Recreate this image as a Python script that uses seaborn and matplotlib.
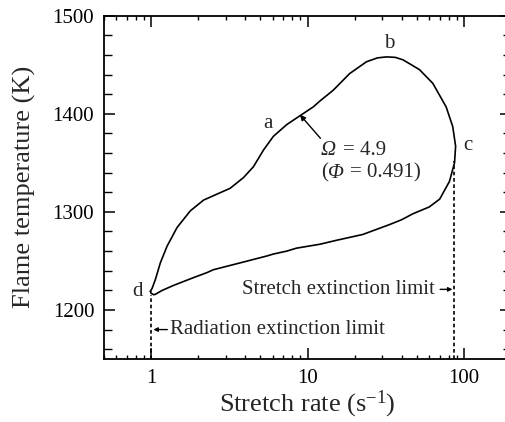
import numpy as np
import pandas as pd
import matplotlib
matplotlib.use("Agg")
import matplotlib.pyplot as plt
import seaborn as sns
from matplotlib.ticker import LogLocator, FixedLocator, NullFormatter, FixedFormatter

# ---- data (closed response curve, traced d -> a -> b -> c -> back to d) ----
stretch_rate = [0.99, 1.015, 1.065, 1.146, 1.265, 1.465, 1.78, 2.165, 2.63, 3.2, 3.9,
                4.51, 5.23, 6.05, 7.37, 8.95, 10.88, 12.0, 14.6, 18.6, 23.8, 28.0,
                32.0, 36.5, 40.8, 52.0, 63.3, 77.0, 84.8, 88.5, 87.1, 80.8, 70.0,
                60.0, 47.1, 40.0, 33.4, 22.6, 15.3, 12.0, 8.5, 7.37, 6.05, 5.49,
                3.71, 2.5, 2.27, 1.87, 1.39, 1.18, 1.065, 1.04, 1.0, 0.99]
flame_temp = [1219, 1222, 1231, 1248, 1265, 1284, 1301, 1312, 1318, 1324, 1335,
              1346, 1363, 1377, 1389, 1398, 1407, 1413, 1424, 1441, 1453, 1457,
              1458, 1457.5, 1455, 1445, 1431, 1407, 1387, 1367, 1350, 1331, 1313,
              1305, 1298, 1292, 1287, 1277, 1271, 1267, 1263, 1260, 1257, 1255,
              1248, 1241, 1238, 1233, 1225, 1220, 1216, 1215.5, 1217, 1219]

radiation_limit = 1.0
stretch_limit = 87.0
radiation_limit_temp = 1215
stretch_limit_temp = 1352

x_ticks = [1, 10, 100]
x_tick_labels = ["1", "10", "100"]
y_ticks = [1200, 1300, 1400, 1500]

point_labels = ["a", "b", "c", "d"]
point_x = [5.6, 33.2, 106, 0.814]
point_y = [1390, 1472, 1368, 1219]

df = pd.DataFrame({"rate": stretch_rate, "temp": flame_temp})

sns.set_theme(style="ticks")
plt.rcParams["font.family"] = ["Liberation Serif", "DejaVu Serif"]
plt.rcParams["mathtext.fontset"] = "custom"
plt.rcParams["mathtext.rm"] = "Liberation Serif"
plt.rcParams["mathtext.it"] = "Liberation Serif:italic"

fig = plt.figure(figsize=(5.05, 4.22), dpi=100)
ax = fig.add_axes([104 / 505, (422 - 359) / 422, 407 / 505, (359 - 15.7) / 422])

sns.lineplot(data=df, x="rate", y="temp", sort=False, estimator=None,
             color="black", linewidth=1.2, ax=ax)

ax.set_xscale("log")
ax.set_xlim(0.5, 200)
ax.set_ylim(1150, 1500)

# extinction limits (dashed verticals)
ax.plot([radiation_limit, radiation_limit], [1150, radiation_limit_temp],
        color="black", lw=1.2, ls=(0, (2.2, 1.6)))
ax.plot([stretch_limit, stretch_limit], [1150, stretch_limit_temp],
        color="black", lw=1.2, ls=(0, (2.2, 1.6)))

# ticks
ax.xaxis.set_major_locator(FixedLocator(x_ticks))
ax.xaxis.set_major_formatter(FixedFormatter(x_tick_labels))
ax.xaxis.set_minor_locator(LogLocator(base=10, subs=np.arange(2, 10)))
ax.xaxis.set_minor_formatter(NullFormatter())
ax.yaxis.set_major_locator(FixedLocator(y_ticks))
ax.yaxis.set_minor_locator(FixedLocator(np.arange(1160, 1500, 20)))

ax.tick_params(axis="both", which="both", direction="in", top=True, right=True,
               colors="black", labelsize=15)
ax.tick_params(axis="both", which="major", length=8, width=1.1)
ax.tick_params(axis="x", which="minor", length=3, width=1.0)
ax.tick_params(axis="y", which="minor", length=5.5, width=1.0)
ax.tick_params(axis="x", which="major", pad=7)
ax.tick_params(axis="y", which="major", pad=7)
for s in ax.spines.values():
    s.set_linewidth(1.3)
    s.set_color("black")

ax.set_xlabel("Stretch rate (s$^{\u22121}$)", fontsize=19, labelpad=1)
ax.set_ylabel("Flame temperature (K)", fontsize=19, labelpad=12)

# point labels
for lab, px, py in zip(point_labels, point_x, point_y):
    ax.text(px, py, lab, fontsize=15, ha="center", va="center")

# Omega annotation
ax.annotate("", xy=(8.95, 1399), xytext=(12.1, 1375),
            arrowprops=dict(arrowstyle="-|>", color="black", lw=1.0,
                            mutation_scale=8, shrinkA=0, shrinkB=0))
ax.text(12.16, 1358, "\u03a9", fontsize=15, fontstyle="italic",
        ha="left", va="baseline")
ax.annotate("= 4.9", xy=(12.16, 1358), xytext=(22, 0), textcoords="offset pixels",
            fontsize=15, ha="left", va="baseline")
ax.text(12.16, 1335, "(", fontsize=15, ha="left", va="baseline")
ax.annotate("\u03a6", xy=(12.16, 1335), xytext=(7, 0), textcoords="offset pixels",
            fontsize=15, fontstyle="italic", ha="left", va="baseline")
ax.annotate("= 0.491)", xy=(12.16, 1335), xytext=(29, 0), textcoords="offset pixels",
            fontsize=15, ha="left", va="baseline")

# extinction limit labels
ax.text(65, 1221, "Stretch extinction limit", fontsize=15, ha="right", va="center")
ax.annotate("", xy=(84.5, 1221), xytext=(70.5, 1221),
            arrowprops=dict(arrowstyle="-|>", color="black", lw=1.0,
                            mutation_scale=6, shrinkA=0, shrinkB=0))
ax.text(1.33, 1180, "Radiation extinction limit", fontsize=15, ha="left", va="center")
ax.annotate("", xy=(1.035, 1180), xytext=(1.27, 1180),
            arrowprops=dict(arrowstyle="-|>", color="black", lw=1.0,
                            mutation_scale=6, shrinkA=0, shrinkB=0))

fig.savefig("out.png", dpi=100, facecolor="white")
